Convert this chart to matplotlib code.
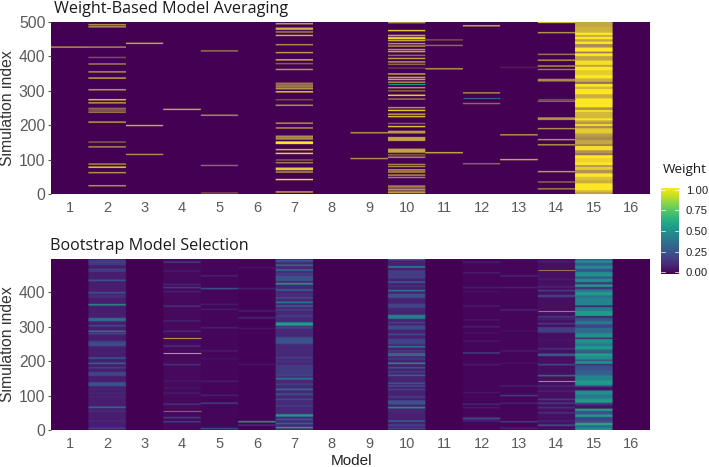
import numpy as np
import matplotlib
matplotlib.use("Agg")
import matplotlib.pyplot as plt
from matplotlib.colors import LinearSegmentedColormap, Normalize
from matplotlib.cm import ScalarMappable

plt.rcParams["font.family"] = ["Liberation Sans", "DejaVu Sans"]

models = [str(i) for i in range(1, 17)]
n_sims = 500

# ---- weight based model averaging, thin lines: (simulation, strength)
wma_m1 = [(425, .6)]
wma_m2 = [(490, .6), (484, .6), (425, .55), (395, .3), (376, .5), (353, .6), (335, .7), (301, .65),
          (272, .9), (263, .65), (247, .4), (242, .4), (236, .5), (207, .65), (149, .35), (135, .55),
          (85, .55), (76, .95), (60, .6), (22, .6)]
wma_m3 = [(436, .7), (197, .7), (113, .55)]
wma_m4 = [(244, .7)]
wma_m5 = [(414, .45), (227, .55), (81, .4), (1, .3)]
wma_m7 = [(493, .7), (480, .7), (477, .7), (469, .5), (459, .75), (432, .55), (409, .65), (388, .8),
          (377, .35), (360, .6), (320, .45), (316, .35), (312, .45), (308, .35), (304, .6),
          (295, .9), (272, .3), (256, .6), (204, .6), (190, .6), (166, .55), (162, .45), (158, .55),
          (149, 1.), (145, 1.), (127, .8), (116, .95), (97, .35), (89, .5), (73, .85), (69, .85),
          (62, .6), (40, .95), (4, .7)]
wma_m9 = [(176, .6), (101, .55)]
wma_m10 = [(496, .55), (473, .9), (459, .7), (453, .7), (450, .95), (444, .7),
           (435, .6), (428, .6), (418, .6), (412, .7), (401, .4), (392, .65),
           (382, .65), (375, .4), (364, .2), (347, .7), (337, .7), (331, .7),
           (323, .6), (307, .6), (298, .4), (285, .95), (274, .45), (249, .6), (241, .9),
           (230, .7), (223, .8), (203, .35), (194, .85), (180, .6), (176, .6), (162, .65),
           (158, .65), (154, .65), (128, .65), (124, .65), (120, .65), (112, .35),
           (105, .6), (84, .5), (78, .5), (68, .7), (62, .65), (53, .6), (46, .5), (21, .6), (16, .4),
           (11, .6), (6, .4), (2, .6)]
wma_m11 = [(446, .3), (430, .4), (362, .6), (118, .7)]
wma_m12 = [(487, .75), (292, .55), (261, .4), (86, .4)]
wma_m13 = [(366, .1), (170, .6), (98, .7)]
wma_m14 = [(497, .8), (467, .6), (404, .45), (387, .6), (370, .6), (360, .45), (331, .5), (327, .5),
           (268, .45), (219, .55), (215, .55), (188, .55), (156, .6), (141, .6), (63, .65),
           (33, .4), (13, .5)]
# model 15 is solid: each band runs from its simulation down to the next one
wma_m15 = [(500, .65), (486, .72), (469, 1.), (462, .65), (457, 1.), (450, .65), (443, 1.), (436, .5),
           (426, 1.), (414, .45), (409, 1.), (401, .65), (388, .95), (375, .6), (370, 1.), (360, .85),
           (346, 1.), (336, .7), (326, .4), (320, 1.), (312, .75), (305, 1.), (290, .7), (278, 1.),
           (252, .55), (244, 1.), (239, .75), (220, 1.), (214, .65), (208, .55), (203, 1.), (198, .5),
           (191, .85), (176, .6), (167, .5), (157, .65), (144, .4), (140, .95), (127, .55), (118, .4),
           (113, 1.), (104, .9), (92, 1.), (84, .55), (79, .85), (70, .55), (60, 1.), (50, .8), (41, .7),
           (31, 1.), (21, 1.), (11, .75), (5, .6), (0, .6)]
# the few mid-weight lines that stay teal: (model, simulation, weight)
wma_mid_models = [10, 12, 14]
wma_mid_sims = [320, 278, 277]
wma_mid_weights = [.55, .3, .3]

# ---- bootstrap model selection
# faint level that fills the busy columns between the lines
bsm_base = [0, .08, 0, .025, .012, .008, .11, 0, 0, .09, 0, .015, .012, .04, 0, 0]
bsm_m2 = [(490, .2), (485, .2), (480, .2), (465, .2), (460, .2), (433, .3), (397, .3), (390, .14), (385, .14),
          (362, .55), (322, .35), (319, .35), (316, .35), (301, .25), (285, .45), (278, .25), (255, .2),
          (251, .2), (247, .25), (243, .2), (207, .3), (192, .35), (179, .2), (165, .2), (161, .2),
          (157, .2), (135, .25), (131, .25), (127, .25), (116, .1), (105, .1), (95, .1), (64, .4),
          (53, .15), (24, .12), (3, .2)]
bsm_m4 = [(486, .2), (460, .08), (421, .1), (412, .2), (400, .1), (358, .15), (315, .1), (285, .12),
          (242, .15), (188, .15), (140, .06), (120, .06), (105, .08), (73, .15), (34, .2), (22, .2)]
bsm_m5 = [(446, .1), (409, .3), (363, .08), (349, .08), (295, .1), (228, .08), (205, .05), (140, .08),
          (99, .1), (76, .2), (2, .25)]
bsm_m6 = [(470, .05), (409, .1), (344, .08), (324, .12), (293, .05), (189, .05), (22, .6), (12, .15)]
bsm_m7 = [(491, .25), (488, .25), (477, .4), (463, .4), (452, .2), (445, .25), (441, .25), (437, .25),
          (433, .25), (423, .6), (405, .35), (392, .15), (382, .25), (369, .45), (358, .35), (347, .2),
          (329, .2), (309, .55), (306, .55), (303, .55), (295, .25), (266, .25), (262, .25), (258, .25),
          (254, .25), (250, .25), (232, .12), (208, .2), (198, .15), (184, .2), (178, .2), (172, .2),
          (166, .2), (160, .2), (156, .2), (147, .45), (131, .2), (116, .4), (102, .3), (87, .25),
          (68, .2), (42, .55), (39, .55), (29, .3), (17, .35), (5, .6)]
bsm_m10 = [(494, .4), (472, .5), (460, .18), (456, .18), (452, .18), (448, .18), (444, .18), (440, .18),
           (428, .35), (416, .15), (403, .45), (392, .25), (388, .25), (384, .25), (363, .2), (359, .2),
           (355, .2), (346, .1), (331, .42), (327, .42), (323, .42), (310, .2), (300, .22), (296, .22),
           (292, .22), (276, .25), (261, .2), (257, .2), (253, .2), (249, .2), (240, .45), (228, .2),
           (220, .4), (215, .4), (205, .2), (192, .55), (179, .3), (167, .2), (157, .35), (134, .3),
           (126, .25), (116, .2), (94, .2), (82, .25), (78, .25), (74, .25), (63, .55), (53, .12),
           (24, .35), (12, .25), (3, .2)]
bsm_m12 = [(486, .1), (455, .08), (412, .08), (400, .05), (358, .08), (318, .06), (298, .1), (280, .05),
           (257, .07), (222, .2), (188, .08), (107, .06), (73, .12), (63, .08), (33, .2), (30, .2), (24, .1)]
bsm_m13 = [(494, .05), (446, .12), (412, .1), (347, .12), (286, .05), (228, .08), (192, .05), (126, .1),
           (98, .2), (76, .1), (22, .18), (3, .1)]
bsm_m14 = [(487, .1), (436, .08), (414, .12), (403, .2), (389, .2), (386, .2), (327, .2), (320, .1), (307, .2),
           (295, .18), (291, .18), (287, .18), (283, .18), (260, .06), (234, .15), (218, .3), (215, .3),
           (188, .25), (156, .4), (126, .12), (111, .1), (87, .2), (76, .2), (63, .15), (48, .15),
           (24, .1), (12, .3)]
bsm_m15 = [(499, .02), (498, .35), (492, .5), (486, .3), (477, .5), (469, .25), (459, .5), (446, .25), (440, .5),
           (430, .15), (423, .55), (416, .15), (409, .4), (401, .55), (391, .35), (385, .45), (362, .05),
           (358, .4), (346, .55), (331, .05), (327, .25), (317, .4), (307, .2), (297, .35), (281, .5),
           (268, .03), (265, .5), (252, .4), (244, .55), (234, .3), (222, .6), (217, .5), (205, .25),
           (200, .5), (192, .1), (188, .25), (173, .3), (159, .45), (144, .55), (130, .2), (125, .05),
           (115, .5), (103, .4), (91, .55), (79, .15), (72, .05), (62, .6), (56, .25), (45, .55), (38, .2),
           (27, .25), (20, .65), (15, .35), (6, .5), (0, .5)]
# brownish lines: (model, simulation, strength)
bsm_strong_models = [4, 4, 4, 14, 14, 14]
bsm_strong_sims = [267, 225, 55, 466, 347, 141]
bsm_strong_values = [.55, .6, .35, .4, .45, .5]

weight_ticks = [0, .25, .5, .75, 1]


def add_lines(mat, col, lines):
    for sim, w in lines:
        mat[sim:sim + 4, col] = w


def add_bands(mat, col, bands):
    for (sim, w), (nxt, _) in zip(bands[:-1], bands[1:]):
        mat[nxt:sim, col] = w


def pix_axes(fig, x0, y0, x1, y1):
    W, H = fig.get_size_inches() * fig.dpi
    return fig.add_axes([x0 / W, 1 - y1 / H, (x1 - x0) / W, (y1 - y0) / H])


def draw_panel(ax, mat, cmap, smooth, ylim, yticks):
    # columns repeated so the smoothing only acts along the simulations
    wide = np.repeat(mat, 37, axis=1)
    ax.imshow(wide, cmap=cmap, vmin=0, vmax=1, origin="lower", aspect="auto", extent=(.5, 16.5, 0, n_sims),
              interpolation=smooth)
    ax.set_xlim(.5, 16.5)
    ax.set_ylim(*ylim)
    ax.set_xticks(range(1, 17), models)
    ax.set_yticks(yticks)
    ax.tick_params(axis="x", length=0, labelsize=10.5, labelcolor="#5a5a5a", pad=5)
    ax.tick_params(axis="y", length=2, width=.8, color="#555555", labelsize=11.3, labelcolor="#5a5a5a", pad=2)
    for s in ax.spines.values():
        s.set_visible(False)
    ax.set_ylabel("Simulation index", fontsize=11.3, color="#333333", labelpad=3)


def draw_lines(ax, model, sims, values, cmap):
    for m, sim, v in zip(model, sims, values):
        ax.hlines(sim, m - .5, m + .5, colors=[cmap(v)], lw=.8)


viridis = plt.get_cmap("viridis")
# thin yellow lines get mixed with the background when the image is scaled down
blend = LinearSegmentedColormap.from_list("blend", [viridis(0.0), "#a98a50", "#fde725"])

fig = plt.figure(figsize=(7.09, 4.67), dpi=100)

# top panel
top = np.zeros((n_sims, 16))
for col, lines in [(0, wma_m1), (1, wma_m2), (2, wma_m3), (3, wma_m4), (4, wma_m5), (6, wma_m7), (8, wma_m9),
                   (9, wma_m10), (10, wma_m11), (11, wma_m12), (12, wma_m13), (13, wma_m14)]:
    add_lines(top, col, lines)
add_bands(top, 14, wma_m15)

ax1 = pix_axes(fig, 51, 22, 650, 194)
draw_panel(ax1, top, blend, "hanning", (0, 500), [0, 100, 200, 300, 400, 500])
draw_lines(ax1, wma_mid_models, wma_mid_sims, wma_mid_weights, viridis)

# bottom panel
bot = np.tile(bsm_base, (n_sims, 1))
for col, lines in [(1, bsm_m2), (3, bsm_m4), (4, bsm_m5), (5, bsm_m6), (6, bsm_m7), (9, bsm_m10), (11, bsm_m12),
                   (12, bsm_m13), (13, bsm_m14)]:
    add_lines(bot, col, lines)
add_bands(bot, 14, bsm_m15)

ax2 = pix_axes(fig, 51, 259, 650, 430)
draw_panel(ax2, bot, viridis, "gaussian", (0, 497), [0, 100, 200, 300, 400])
draw_lines(ax2, bsm_strong_models, bsm_strong_sims, bsm_strong_values, blend)

W, H = fig.get_size_inches() * fig.dpi
fig.text(54 / W, 1 - 9 / H, "Weight-Based Model Averaging", family="Open Sans", fontsize=11.6, color="#1a1a1a",
         ha="left", va="center")
fig.text(50 / W, 1 - 246 / H, "Bootstrap Model Selection", family="Open Sans", fontsize=11.6, color="#1a1a1a",
         ha="left", va="center")
fig.text(351 / W, 1 - 461 / H, "Model", fontsize=11, color="#222222", ha="center", va="center")

# colour bar
cax = pix_axes(fig, 661, 188, 679, 274)
cb = fig.colorbar(ScalarMappable(Normalize(-.024, 1.024), viridis), cax=cax)
cb.outline.set_visible(False)
cb.set_ticks(weight_ticks, labels=["%.2f" % t for t in weight_ticks])
cax.tick_params(length=0, labelsize=8.1, pad=5, labelcolor="#222222")
for t in weight_ticks:
    cax.plot([0, .2], [t, t], color="white", lw=.5, transform=cax.get_yaxis_transform())
    cax.plot([.8, 1], [t, t], color="white", lw=.5, transform=cax.get_yaxis_transform())
fig.text(663 / W, 1 - 169 / H, "Weight", family="Open Sans", fontsize=9.7, color="#1a1a1a", ha="left", va="center")

fig.savefig("out.png", dpi=100)
